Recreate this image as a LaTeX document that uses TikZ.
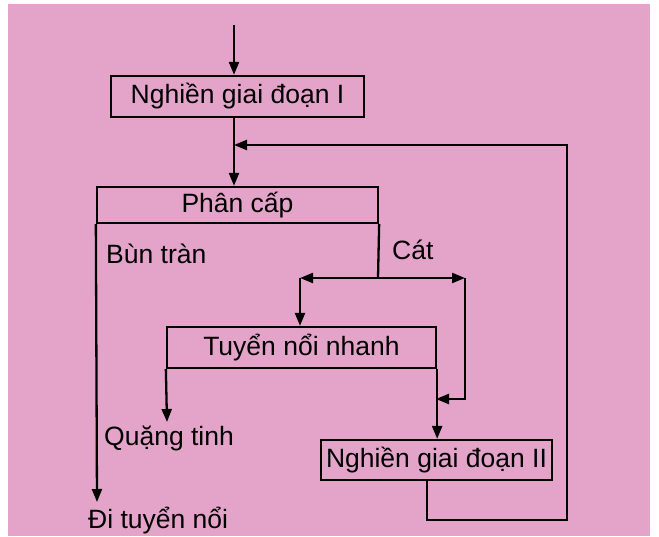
\documentclass[tikz,border=0pt]{standalone}
\usepackage{fontspec}
\setmainfont{Liberation Sans}
\usetikzlibrary{arrows.meta}
\definecolor{paper}{RGB}{228,164,202}
\tikzset{
  box/.style={draw, line width=2.3pt, inner sep=0pt, font=\fontsize{26.5}{30}\selectfont},
  lbl/.style={inner sep=0pt, anchor=west, font=\fontsize{26.5}{30}\selectfont},
  ln/.style={line width=2.3pt},
  arr/.style={line width=2.3pt, -{Triangle[length=13pt,width=10pt]}},
}
\begin{document}
\begin{tikzpicture}[x=1pt,y=-1pt]
\useasboundingbox (0,0) rectangle (659,536);
\fill[paper] (8,4) rectangle (650,536);

% boxes
\node[box, minimum width=253pt, minimum height=41pt] (b1) at (237.5,96.5) {Nghiền giai đoạn I};
\node[box, minimum width=281pt, minimum height=36pt] (pc) at (237.5,205) {Phân cấp};
\node[box, minimum width=269pt, minimum height=41pt] (tn) at (301.5,347.5) {Tuyển nổi nhanh};
\node[box, minimum width=231pt, minimum height=40pt] (b2) at (436.5,460) {Nghiền giai đoạn II};

% labels
\node[lbl] (bun) at (106,254) {Bùn tràn};
\node[lbl] (cat) at (392,250) {Cát};
\node[lbl] (qt) at (104,438) {Quặng tinh};
\node[lbl] (di) at (88,521) {Đi tuyển nổi};

% helper coordinates
\coordinate (in) at (234,25);
\coordinate (fbr) at (567,145);
\coordinate (fbj) at (234,145);
\coordinate (cr) at (378,278);
\coordinate (cl) at (300,278);
\coordinate (crr) at (465,278);
\coordinate (sd) at (465,399);
\coordinate (sj) at (436,399);
\coordinate (dl) at (427,520);
\coordinate (dr) at (567,520);
\coordinate (diend) at (97,502);
\coordinate (qtend) at (167,422);

% connectors
\draw[arr] (in) -- (in |- b1.north);
\draw[arr] (b1.south -| in) -- (pc.north -| in);
\draw[arr] (b2.south -| dl) -- (dl) -- (dr) -- (fbr) -- (fbj);
\draw[arr] (pc.south west) -- (diend);
\draw[ln] (pc.south east) -- (cr);
\draw[arr] (cr) -- (cl);
\draw[arr] (cr) -- (crr);
\draw[arr] (cl) -- (tn.north -| cl);
\draw[arr] (crr) -- (sd) -- (sj);
\draw[arr] (tn.south west) -- (qtend);
\draw[arr] (tn.south east) -- (b2.north -| tn.south east);
\end{tikzpicture}
\end{document}
